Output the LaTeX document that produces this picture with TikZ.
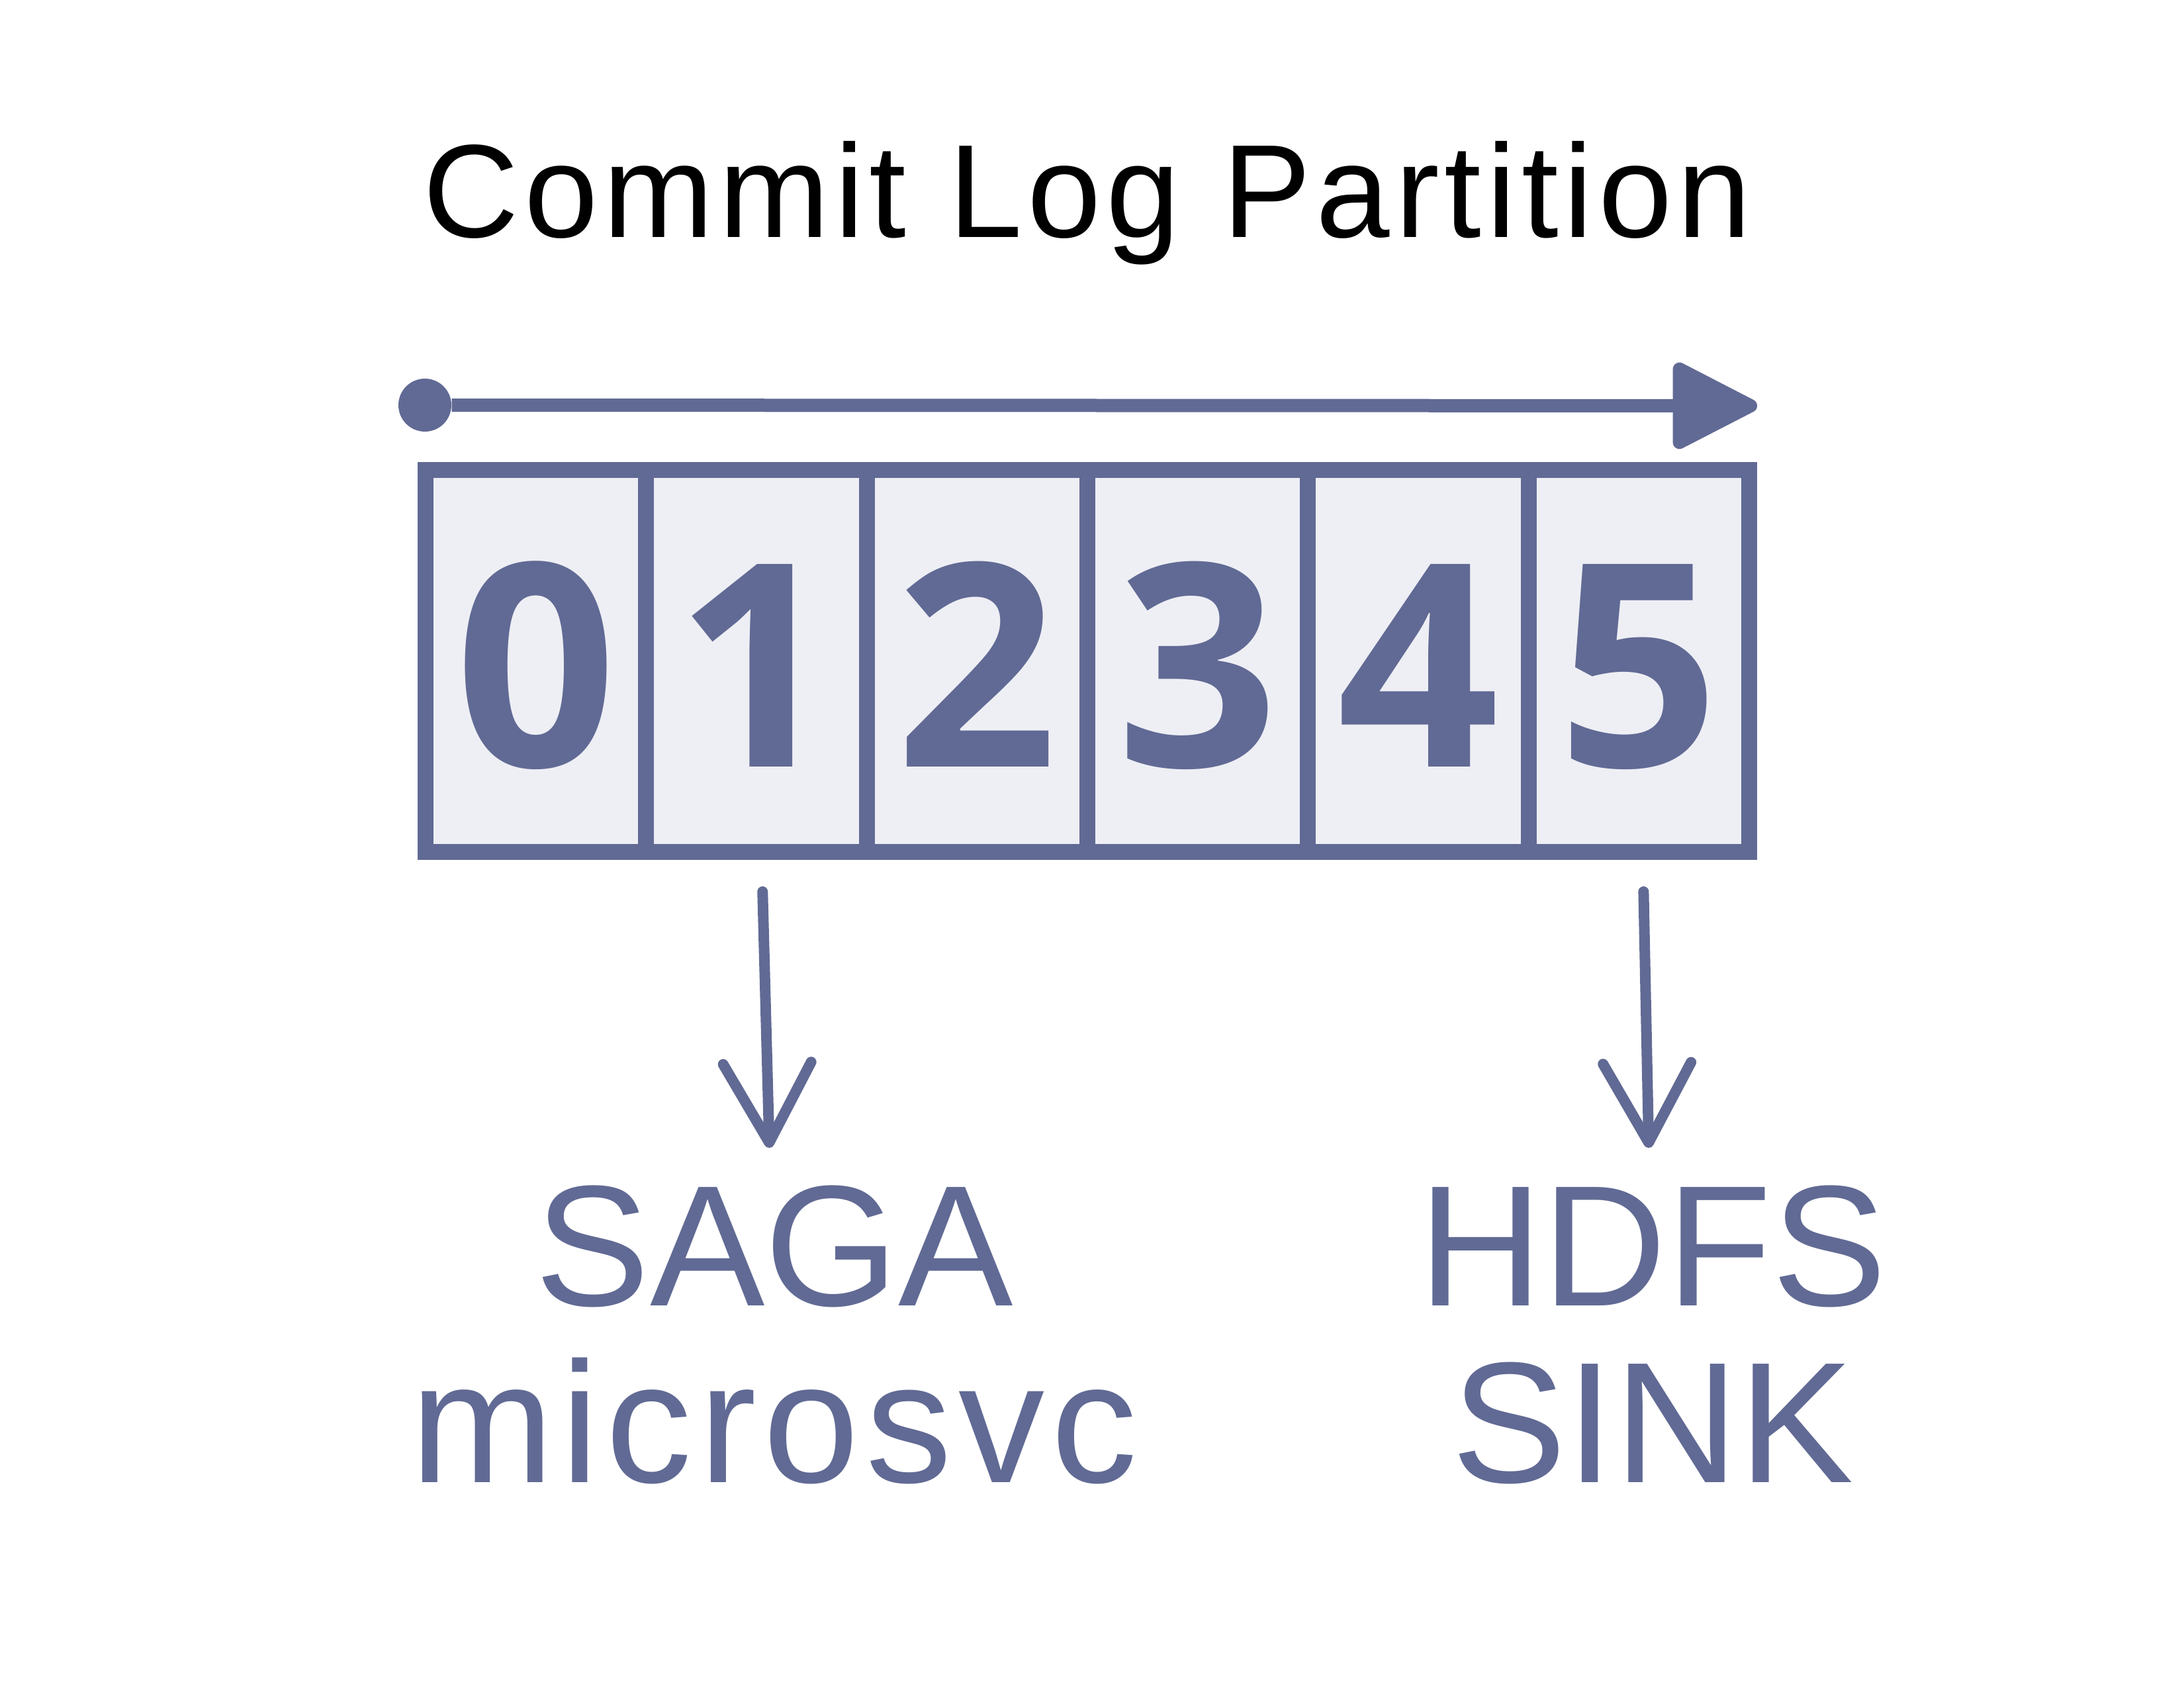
\documentclass[tikz,border=0pt]{standalone}
\usepackage{fontspec}
\setmainfont{Liberation Sans}
\newfontfamily\spacedfont[LetterSpace=4]{Liberation Sans}
\newfontfamily\tightfont{Liberation Sans}
\newfontfamily\digitfont{Open Sans}
\usetikzlibrary{arrows.meta}
\definecolor{logblue}{HTML}{616A94}
\definecolor{logfill}{HTML}{EEEFF5}
\begin{document}
\begin{tikzpicture}[cell node/.style={rectangle,draw=logblue,fill=logfill,line width=0.24cm,minimum width=3.333cm,minimum height=5.77cm,inner sep=0pt,text=logblue,text height=3.19cm,text depth=0pt,font=\digitfont\fontsize{122pt}{122pt}\selectfont\bfseries}, label node/.style={anchor=north,align=center,inner sep=0pt,text=logblue,font=\spacedfont\fontsize{74pt}{76pt}\selectfont}]
\useasboundingbox (0,0) rectangle (33,-25.5);
\node[anchor=base,font=\spacedfont\fontsize{57pt}{60pt}\selectfont] (title) at (16.43,-3.59) {Commit Log Partition};
\begin{scope}[every node/.style={cell node}]
\node (c0) at (8.097,-9.985) {0};%0
\node (c1) at (11.430,-9.985) {1};%1
\node (c2) at (14.763,-9.985) {2};%2
\node (c3) at (18.097,-9.985) {3};%3
\node (c4) at (21.430,-9.985) {4};%4
\node (c5) at (24.763,-9.985) {5};%5
\end{scope}
\node[circle,fill=logblue,minimum size=0.8cm,inner sep=0pt] (first) at (6.42,-6.12) {};%offset start
\coordinate (next) at (26.55,-6.13);
\draw[draw=logblue,line width=0.2cm,-{Triangle[length=1.4cm,width=1.38cm,round]}] (first) -- (next);
\node[label node] (saga) at (11.70,-17.90) {{\tightfont SAGA}\\microsvc};
\node[label node] (hdfs) at (24.97,-17.90) {{\tightfont HDFS}\\{\tightfont SINK}};
\begin{scope}[every edge/.style={draw=logblue,line width=0.16cm,line cap=round,shorten <=0.48cm,shorten >=0.56cm,-{Straight Barb[length=1.2cm,width=1.33cm,round]}}]
\draw (c1) edge (saga);
\draw (c5) edge (hdfs);
\end{scope}
\end{tikzpicture}
\end{document}
